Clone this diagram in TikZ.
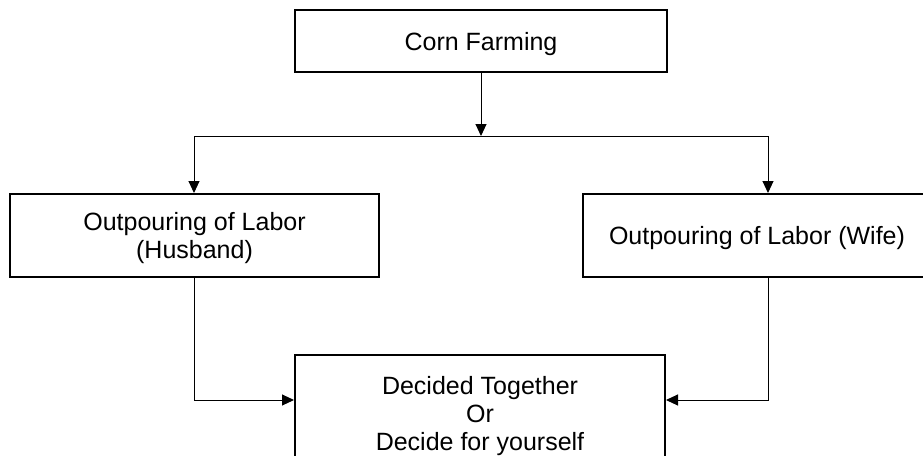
\documentclass[tikz,border=0pt]{standalone}
\usepackage{fontspec}
\setmainfont{Liberation Sans}
\usetikzlibrary{arrows.meta}
\begin{document}
\begin{tikzpicture}[x=1pt,y=-1pt,
  box/.style={draw, line width=2pt, fill=white, inner sep=0pt, align=center,
    text depth=0pt, font=\fontsize{25}{28}\selectfont},
  conn/.style={line width=1pt, -{Triangle[length=12pt,width=11pt]}},
  plain/.style={line width=1pt}]
\useasboundingbox (0,0) rectangle (923,455);
\clip (0,0) rectangle (923,455);
\fill[white] (0,0) rectangle (923,455);
% boxes
\node[box, minimum width=372pt, minimum height=62pt] (top) at (481,41) {Corn Farming};
\node[box, minimum width=369pt, minimum height=83pt] (left) at (194.5,235.5) {Outpouring of Labor\\(Husband)};
\node[box, minimum width=348pt, minimum height=83pt] (right) at (757,235.5) {Outpouring of Labor (Wife)};
\node[box, minimum width=370pt, minimum height=116pt] (bottom) at (480,413) {Decided Together\\Or\\Decide for yourself};
% junction coordinates
\coordinate (hl) at (194,136);
\coordinate (hr) at (768,136);
\coordinate (hm) at (top.south |- hl);
% connectors
\draw[conn] (top.south) -- (hm);
\draw[plain] (hl) -- (hr);
\draw[conn] (hl) -- (hl |- left.north);
\draw[conn] (hr) -- (hr |- right.north);
\draw[conn] (hl |- left.south) |- ([yshift=13pt]bottom.west);
\draw[conn] (hr |- right.south) |- ([yshift=13pt]bottom.east);
\end{tikzpicture}
\end{document}
